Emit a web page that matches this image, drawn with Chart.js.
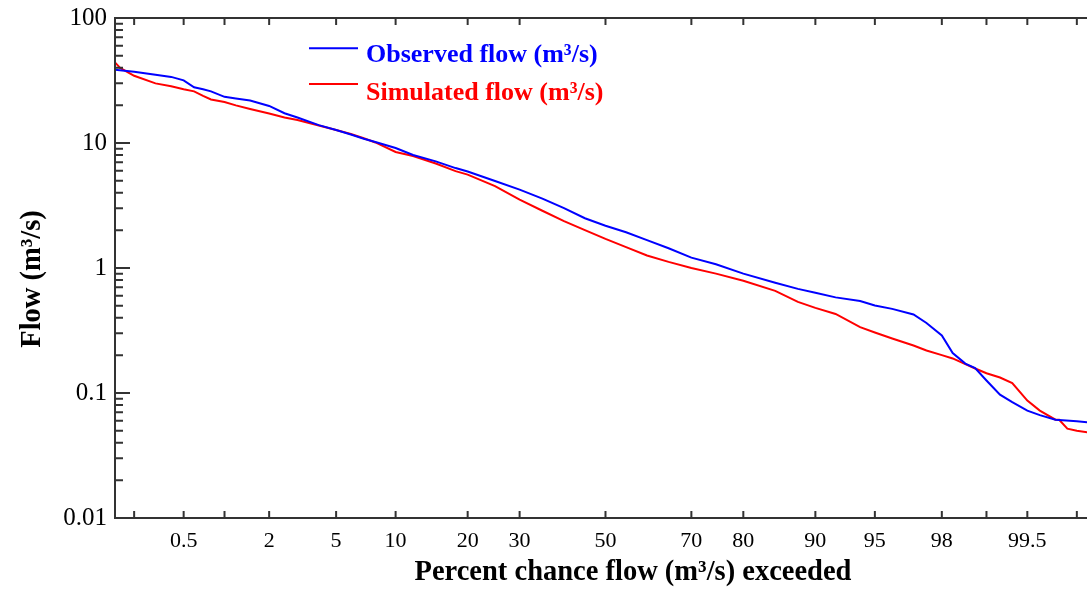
<!DOCTYPE html>
<html>
<head>
<meta charset="utf-8">
<script src="https://cdn.jsdelivr.net/npm/chart.js@4.4.1/dist/chart.umd.min.js"></script>
<style>
  html, body { margin: 0; padding: 0; background: #ffffff; }
  #wrap { width: 1087px; height: 599px; }
</style>
</head>
<body>
<div id="wrap"><canvas id="c" width="1087" height="599"></canvas></div>
<script>
// ---- Data (percent chance exceeded, flow in m3/s) ----
const obsPercent = [0.137, 0.2, 0.3, 0.4, 0.5, 0.6, 0.7, 0.8, 1, 1.2, 1.5, 2, 2.5, 3, 4, 5, 6, 7, 8, 10, 12, 15, 18, 20, 25, 30, 35, 40, 45, 50, 55, 60, 65, 70, 75, 80, 85, 88, 90, 92, 94, 95, 96, 97, 97.5, 98, 98.3, 98.6, 98.8, 99, 99.2, 99.35, 99.5, 99.6, 99.7, 99.8, 99.84];
const obsFlow = [38.5, 37.1, 35.1, 33.8, 31.7, 27.9, 26.9, 25.9, 23.4, 22.7, 21.9, 19.8, 17.3, 16.0, 13.9, 12.7, 11.7, 10.8, 10.2, 9.12, 8.01, 7.13, 6.30, 5.91, 4.96, 4.24, 3.59, 3.01, 2.50, 2.18, 1.93, 1.67, 1.44, 1.21, 1.07, 0.902, 0.761, 0.681, 0.633, 0.582, 0.544, 0.502, 0.471, 0.425, 0.363, 0.289, 0.209, 0.172, 0.158, 0.126, 0.0971, 0.0845, 0.0723, 0.0665, 0.0612, 0.0595, 0.0582];

const simPercent = [0.137, 0.152, 0.2, 0.3, 0.4, 0.5, 0.6, 0.7, 0.8, 1, 1.2, 1.5, 2, 2.5, 3, 4, 5, 6, 7, 8, 10, 12, 15, 18, 20, 25, 30, 35, 40, 45, 50, 55, 60, 65, 70, 75, 80, 85, 88, 90, 92, 94, 95, 96, 97, 97.5, 98, 98.3, 98.6, 98.8, 99, 99.2, 99.35, 99.5, 99.6, 99.7, 99.72, 99.76, 99.8, 99.84];
const simFlow = [44.2, 39.9, 34.5, 30.0, 28.4, 26.9, 25.9, 23.8, 22.3, 21.3, 20.0, 18.7, 17.2, 16.0, 15.3, 13.8, 12.7, 11.8, 10.9, 10.1, 8.47, 7.87, 6.85, 5.96, 5.59, 4.52, 3.52, 2.87, 2.37, 2.01, 1.71, 1.47, 1.26, 1.12, 1.00, 0.902, 0.790, 0.656, 0.536, 0.480, 0.429, 0.336, 0.305, 0.273, 0.240, 0.219, 0.201, 0.189, 0.170, 0.157, 0.144, 0.133, 0.120, 0.0869, 0.0723, 0.0612, 0.0610, 0.0518, 0.0499, 0.0484];

const seriesLabels = ['Observed flow (m\u00B3/s)', 'Simulated flow (m\u00B3/s)'];
const seriesColors = ['#0000ff', '#ff0000'];

const xTickLabels = ['0.5', '2', '5', '10', '20', '30', '50', '70', '80', '90', '95', '98', '99.5'];
const xTickMarks = [0.2, 0.5, 1, 2, 5, 10, 20, 30, 50, 70, 80, 90, 95, 98, 99, 99.5, 99.8];
const yTickLabels = ['0.01', '0.1', '1', '10', '100'];
const xRangePercent = [0.1372, 99.836];
const xTitle = 'Percent chance flow (m\u00B3/s) exceeded';
const yTitle = 'Flow (m\u00B3/s)';

// inverse standard normal CDF (probability paper scale)
function probit(pct) {
  const p = pct / 100;
  const a = [-3.969683028665376e+01, 2.209460984245205e+02, -2.759285104469687e+02, 1.383577518672690e+02, -3.066479806614716e+01, 2.506628277459239e+00];
  const b = [-5.447609879822406e+01, 1.615858368580409e+02, -1.556989798598866e+02, 6.680131188771972e+01, -1.328068155288572e+01];
  const c = [-7.784894002430293e-03, -3.223964580411365e-01, -2.400758277161838e+00, -2.549732539343734e+00, 4.374664141464968e+00, 2.938163982698783e+00];
  const d = [7.784695709041462e-03, 3.224671290700398e-01, 2.445134137142996e+00, 3.754408661907416e+00];
  const pl = 0.02425, ph = 1 - pl;
  let q, r;
  if (p < pl) {
    q = Math.sqrt(-2 * Math.log(p));
    return (((((c[0]*q+c[1])*q+c[2])*q+c[3])*q+c[4])*q+c[5]) / ((((d[0]*q+d[1])*q+d[2])*q+d[3])*q+1);
  }
  if (p > ph) {
    q = Math.sqrt(-2 * Math.log(1 - p));
    return -(((((c[0]*q+c[1])*q+c[2])*q+c[3])*q+c[4])*q+c[5]) / ((((d[0]*q+d[1])*q+d[2])*q+d[3])*q+1);
  }
  q = p - 0.5; r = q * q;
  return (((((a[0]*r+a[1])*r+a[2])*r+a[3])*r+a[4])*r+a[5])*q / (((((b[0]*r+b[1])*r+b[2])*r+b[3])*r+b[4])*r+1);
}

const FONT = "'Liberation Serif', 'Times New Roman', serif";
const AXIS_COLOR = '#333333';

const decorPlugin = {
  id: 'decor',
  afterDatasetsDraw(chart) {
    const ctx = chart.ctx;
    const ca = chart.chartArea;
    const xs = chart.scales.x, ys = chart.scales.y;
    ctx.save();
    ctx.strokeStyle = AXIS_COLOR;
    ctx.lineWidth = 2;
    // frame: left, top, bottom
    ctx.beginPath();
    ctx.moveTo(ca.left, ca.top - 1); ctx.lineTo(ca.left, ca.bottom + 1);
    ctx.moveTo(ca.left - 1, ca.top); ctx.lineTo(ca.right, ca.top);
    ctx.moveTo(ca.left - 1, ca.bottom); ctx.lineTo(ca.right, ca.bottom);
    ctx.stroke();
    // y ticks (inward)
    ctx.beginPath();
    for (let e = -2; e <= 2; e++) {
      for (let k = 1; k <= 9; k++) {
        const v = k * Math.pow(10, e);
        if (v < 0.0099 || v > 101) continue;
        const py = ys.getPixelForValue(v);
        let len = (k === 1) ? 15 : 8;
        if (e === 2 || e === -2) { if (k === 1 && e === -2) continue; len = 8; }
        ctx.moveTo(ca.left, py); ctx.lineTo(ca.left + len, py);
      }
    }
    // x ticks top and bottom (inward)
    xTickMarks.forEach(p => {
      const px = xs.getPixelForValue(probit(p));
      ctx.moveTo(px, ca.bottom); ctx.lineTo(px, ca.bottom - 7);
      ctx.moveTo(px, ca.top); ctx.lineTo(px, ca.top + 7);
    });
    ctx.stroke();

    // legend
    const legendY = [48.3, 84];
    const textBase = [61.5, 100];
    chart.data.datasets.forEach((ds, i) => {
      ctx.strokeStyle = ds.borderColor;
      ctx.lineWidth = 2;
      ctx.beginPath();
      ctx.moveTo(309, legendY[i]); ctx.lineTo(358, legendY[i]);
      ctx.stroke();
      ctx.fillStyle = ds.borderColor;
      ctx.font = 'bold 26px ' + FONT;
      ctx.textAlign = 'left';
      ctx.textBaseline = 'alphabetic';
      ctx.fillText(ds.label, 366, textBase[i]);
    });

    // axis titles
    ctx.fillStyle = '#000000';
    ctx.font = 'bold 28.5px ' + FONT;
    ctx.textAlign = 'center';
    ctx.textBaseline = 'alphabetic';
    ctx.fillText(xTitle, 633, 580);
    ctx.translate(40, 279);
    ctx.rotate(-Math.PI / 2);
    ctx.fillText(yTitle, 0, 0);
    ctx.restore();
  }
};

const chart = new Chart(document.getElementById('c').getContext('2d'), {
  type: 'line',
  data: {
    datasets: [
      {
        label: seriesLabels[0],
        data: obsPercent.map((p, i) => ({ x: probit(p), y: obsFlow[i] })),
        borderColor: seriesColors[0], backgroundColor: seriesColors[0],
        borderWidth: 2, pointRadius: 0, fill: false, tension: 0
      },
      {
        label: seriesLabels[1],
        data: simPercent.map((p, i) => ({ x: probit(p), y: simFlow[i] })),
        borderColor: seriesColors[1], backgroundColor: seriesColors[1],
        borderWidth: 2, pointRadius: 0, fill: false, tension: 0
      }
    ]
  },
  options: {
    responsive: false,
    animation: false,
    devicePixelRatio: 1,
    layout: { padding: { left: 0, right: 0, top: 18, bottom: 0 } },
    plugins: { legend: { display: false }, tooltip: { enabled: false }, title: { display: false } },
    scales: {
      x: {
        type: 'linear',
        min: probit(xRangePercent[0]),
        max: probit(xRangePercent[1]),
        grid: { display: false, drawTicks: false },
        border: { display: false },
        afterBuildTicks: (s) => {
          s.ticks = xTickLabels.map(t => ({ value: probit(parseFloat(t)) }));
        },
        ticks: {
          autoSkip: false, maxRotation: 0, minRotation: 0,
          padding: 10,
          color: '#000000',
          font: { family: FONT, size: 22 },
          callback: (v, i) => xTickLabels[i]
        },
        afterFit: (s) => { s.height = 81; s.paddingLeft = 0; s.paddingRight = 0; }
      },
      y: {
        type: 'logarithmic',
        min: 0.01,
        max: 100,
        grid: { display: false, drawTicks: false },
        border: { display: false },
        afterBuildTicks: (s) => {
          s.ticks = yTickLabels.map(t => ({ value: parseFloat(t) }));
        },
        ticks: {
          autoSkip: false,
          padding: 8,
          color: '#000000',
          font: { family: FONT, size: 25 },
          callback: (v, i) => yTickLabels[i]
        },
        afterFit: (s) => { s.width = 115; s.paddingTop = 0; s.paddingBottom = 0; }
      }
    }
  },
  plugins: [decorPlugin]
});
</script>
</body>
</html>
